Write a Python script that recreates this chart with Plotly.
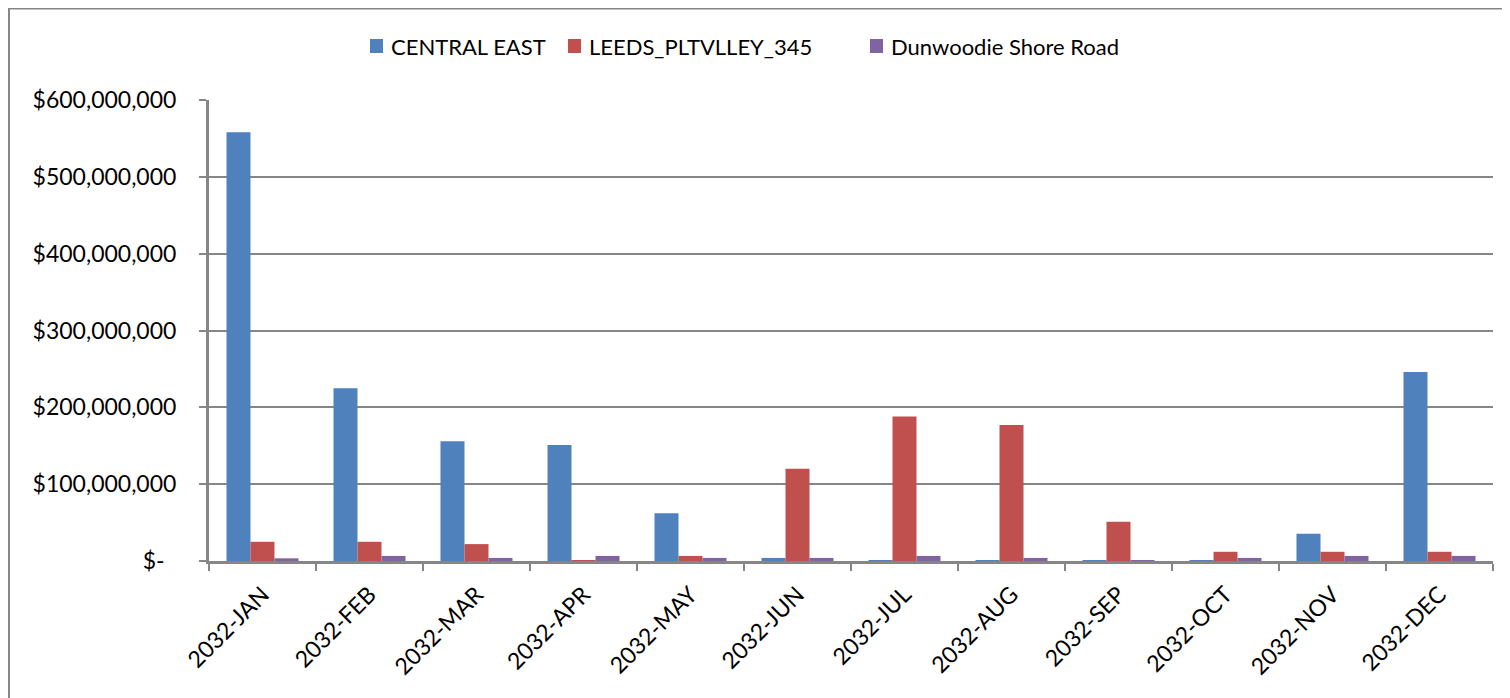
import plotly.graph_objects as go

months = ["2032-JAN", "2032-FEB", "2032-MAR", "2032-APR", "2032-MAY", "2032-JUN",
          "2032-JUL", "2032-AUG", "2032-SEP", "2032-OCT", "2032-NOV", "2032-DEC"]
central_east = [558e6, 225e6, 156e6, 151e6, 62e6, 4e6, 1.3e6, 1.3e6, 1.3e6, 1.3e6, 35.5e6, 246e6]
leeds = [25e6, 25e6, 22e6, 1.3e6, 6.6e6, 120e6, 188e6, 177e6, 51e6, 12e6, 12e6, 12e6]
dunwoodie = [3.5e6, 6.6e6, 4e6, 6.6e6, 4e6, 4e6, 6.6e6, 4e6, 1.3e6, 4e6, 6.6e6, 6.6e6]

series_names = ["CENTRAL EAST", "LEEDS_PLTVLLEY_345", "Dunwoodie Shore Road"]
colors = ["#4F81BD", "#C0504D", "#8064A2"]

ytickvals = [0, 100e6, 200e6, 300e6, 400e6, 500e6, 600e6]
yticktext = ["$-\u00a0\u00a0", "$100,000,000", "$200,000,000", "$300,000,000",
             "$400,000,000", "$500,000,000", "$600,000,000"]

FONT = "Lato"
fig = go.Figure()
for name, vals, c in zip(series_names, [central_east, leeds, dunwoodie], colors):
    fig.add_trace(go.Bar(x=months, y=vals, name=name, marker_color=c,
                         marker_line_width=0, showlegend=False))

# page is offset by the 8px body margin; figure coords = page coords - 8
W, H = 1502, 690
L, R, T, B = 201, 17, 92, 137
pw, ph = W - L - R, H - T - B

def px_x(p):
    return (p - L) / pw

def px_y(p):
    return (H - B - p) / ph

fig.update_layout(
    width=W, height=H,
    margin=dict(l=L, r=R, t=T, b=B, autoexpand=False),
    paper_bgcolor="white", plot_bgcolor="white",
    barmode="group", bargap=0.327, bargroupgap=0,
    font=dict(family=FONT, size=20, color="black"),
    showlegend=False,
)
fig.update_xaxes(
    type="category", tickangle=-45, tickson="boundaries",
    ticks="outside", ticklen=7, tickwidth=2, tickcolor="#868686",
    showline=True, linecolor="#868686", linewidth=3,
    showgrid=False, tickfont=dict(family=FONT, size=23),
    ticklabelstandoff=8,
)
fig.update_yaxes(
    range=[0, 600e6], tickvals=ytickvals, ticktext=yticktext,
    ticks="outside", ticklen=7, tickwidth=2, tickcolor="#868686",
    showline=True, linecolor="#868686", linewidth=3,
    showgrid=True, gridcolor="#868686", gridwidth=2,
    zeroline=False, tickfont=dict(family=FONT, size=23),
    ticklabelstandoff=18,
)
# outer chart border (top and left edges visible)
fig.add_shape(type="rect", xref="paper", yref="paper",
              x0=px_x(1), x1=px_x(1520), y0=px_y(720), y1=px_y(0.5),
              line=dict(color="#868686", width=2), fillcolor="rgba(0,0,0,0)",
              layer="below")

# legend drawn as swatches + text (figure coords)
legend_x = [362, 560, 862]
for name, c, lx in zip(series_names, colors, legend_x):
    fig.add_shape(type="rect", xref="paper", yref="paper",
                  x0=px_x(lx), x1=px_x(lx + 13), y0=px_y(45), y1=px_y(31),
                  line=dict(width=0), fillcolor=c)
    fig.add_annotation(xref="paper", yref="paper", x=px_x(lx + 19), y=px_y(38),
                       xanchor="left", yanchor="middle", showarrow=False,
                       text=name, font=dict(family=FONT, size=22, color="black"))

fig.write_html("out.html")
